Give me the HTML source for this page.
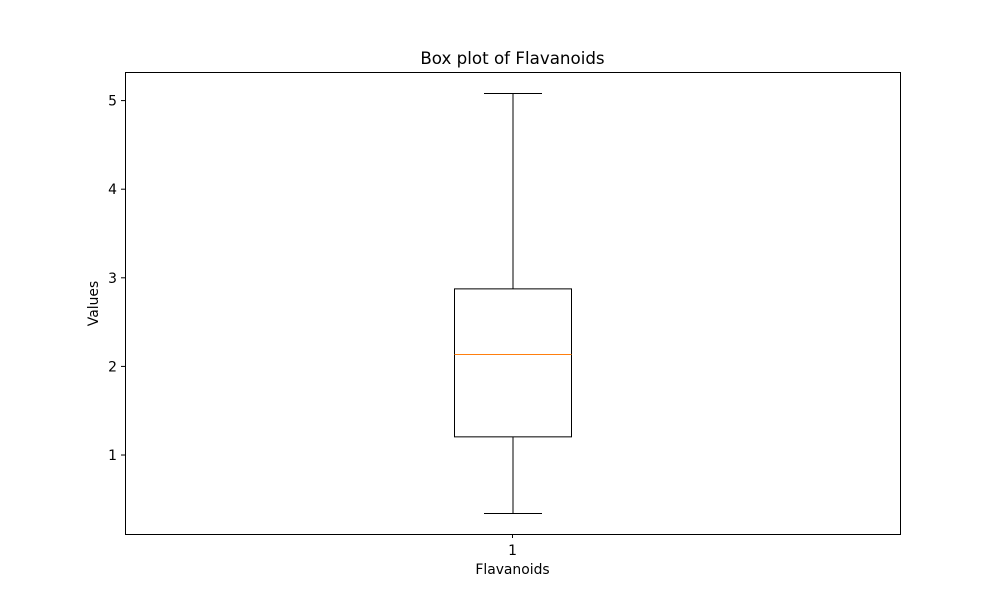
<!DOCTYPE html>
<html><head><meta charset="utf-8"><style>body{margin:0;background:#fff}svg{display:block}text{font-family:"DejaVu Sans","Liberation Sans",sans-serif;fill:#000}</style></head>
<body>
<svg id="chart" width="1000" height="600">
<rect x="0" y="0" width="1000" height="600" fill="#fff"/>
<text x="512.5" y="64" font-size="16.7" text-anchor="middle">Box plot of Flavanoids</text>
<g id="marks"></g>
<rect x="125.5" y="72.5" width="775" height="462" fill="none" stroke="#000" stroke-width="1"/>
<g id="yticks"></g>
<line x1="512.5" y1="534" x2="512.5" y2="538" stroke="#000"/>
<text x="512.5" y="555" font-size="13.9" text-anchor="middle">1</text>
<text x="512.5" y="574" font-size="13.9" text-anchor="middle">Flavanoids</text>
<text x="0" y="0" font-size="13.9" text-anchor="middle" transform="translate(98,303.5) rotate(-90)">Values</text>
</svg>
<script>
const categories=["Flavanoids"];
const whiskerLow=[0.34];
const q1=[1.205];
const median=[2.135];
const q3=[2.875];
const whiskerHigh=[5.08];
const yTicks=[1,2,3,4,5];
const yMin=0.103,yMax=5.317,plotTop=72.5,plotBottom=534.5;
function y(v){return plotBottom-(v-yMin)/(yMax-yMin)*(plotBottom-plotTop);}
function x(i){return 125.5+775*(i+0.5)/categories.length;}
const NS="http://www.w3.org/2000/svg";
function mk(tag,attrs,parent){const e=document.createElementNS(NS,tag);for(const k in attrs)e.setAttribute(k,attrs[k]);parent.appendChild(e);return e;}
const g=document.getElementById('marks');
categories.forEach((c,i)=>{
 const cx=x(i),hw=58.5,cw=29;
 let e;
 e=mk('line',{x1:cx,x2:cx,y1:y(whiskerLow[i]),y2:y(q1[i]),stroke:'#000'},g);
 
 
 e=mk('line',{x1:cx,x2:cx,y1:y(q3[i]),y2:y(whiskerHigh[i]),stroke:'#000'},g);
 
 
 e=mk('line',{x1:cx-cw,x2:cx+cw,y1:y(whiskerLow[i]),y2:y(whiskerLow[i]),stroke:'#000'},g);
 
 
 e=mk('line',{x1:cx-cw,x2:cx+cw,y1:y(whiskerHigh[i]),y2:y(whiskerHigh[i]),stroke:'#000'},g);
 
 
 e=mk('rect',{x:cx-hw,y:y(q3[i]),width:2*hw,height:y(q1[i])-y(q3[i]),fill:'none',stroke:'#000'},g);
 
 
 e=mk('line',{x1:cx-hw,x2:cx+hw,y1:y(median[i]),y2:y(median[i]),stroke:'#ff7f0e'},g);
 
 
});
const yt=document.getElementById('yticks');
yTicks.forEach(t=>{
 const yy=y(t);
 let e=mk('line',{x1:121,x2:125.5,y1:yy,y2:yy,stroke:'#000'},yt);
 
 
 e=mk('text',{x:117,y:yy+5,'font-size':13.9,'text-anchor':'end'},yt);
 e.textContent=t;
 
 
});
</script>
</body></html>
